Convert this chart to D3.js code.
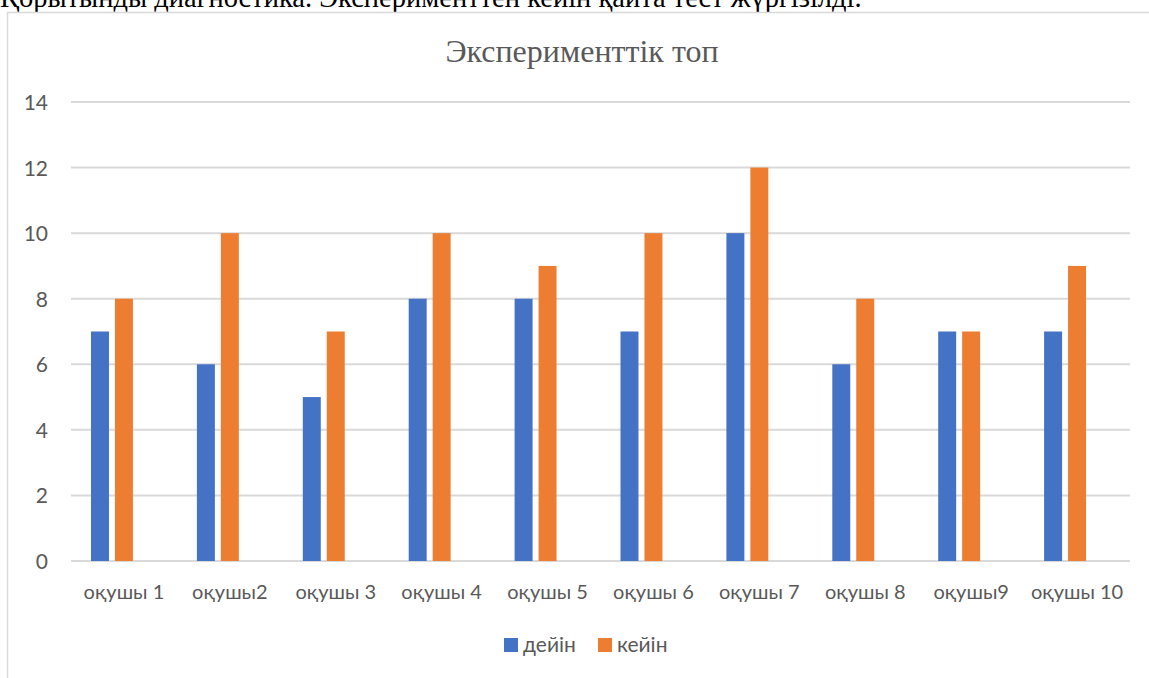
<!DOCTYPE html>
<html>
<head>
<meta charset="utf-8">
<script src="https://cdn.jsdelivr.net/npm/d3@7"></script>
<style>
  html, body { margin: 0; padding: 0; background: #fff; overflow: hidden; }
  svg { display: block; }
</style>
</head>
<body>
<svg id="chart" width="1149" height="678"></svg>
<script>
// Test scores of the experimental group, before and after
const students = ["оқушы 1", "оқушы2", "оқушы 3", "оқушы 4", "оқушы 5", "оқушы 6", "оқушы 7", "оқушы 8", "оқушы9", "оқушы 10"];
const seriesNames = ["дейін", "кейін"];
const before = [7, 6, 5, 8, 8, 7, 10, 6, 7, 7];
const after = [8, 10, 7, 10, 9, 10, 12, 8, 7, 9];
const yTicks = [0, 2, 4, 6, 8, 10, 12, 14];
const colors = ["#4472C4", "#ED7D31"];

const svg = d3.select("#chart");
const W = 1149, H = 678;
const plot = { left: 71, right: 1130, top: 102, bottom: 561 };
const textColor = "#595959";
const font = "Lato, 'Open Sans', sans-serif";

// Caption line from the surrounding document, partly above the frame
svg.append("text")
  .attr("x", 0).attr("y", 7)
  .attr("font-family", "'Liberation Serif', 'Times New Roman', serif")
  .attr("font-size", 28.5)
  .attr("fill", "#000")
  .text("Қорытынды диагностика. Эксперименттен кейін қайта тест жүргізілді.");

// Chart frame (left and top edges)
svg.append("path")
  .attr("d", `M7.5,${H} V12.5 H${W}`)
  .attr("fill", "none")
  .attr("stroke", "#d9d9d9")
  .attr("stroke-width", 1.5);

const x = d3.scaleBand().domain(students).range([plot.left, plot.right]).paddingInner(0).paddingOuter(0);
// Three slots per category; the third one stays empty
const inner = d3.scaleBand().domain([0, 1, 2])
  .range([20, x.bandwidth() - 20]).paddingInner(0.25).paddingOuter(0);
const y = d3.scaleLinear().domain([0, 14]).range([plot.bottom, plot.top]);

// Gridlines
svg.append("g")
  .selectAll("line")
  .data(yTicks)
  .join("line")
  .attr("x1", plot.left).attr("x2", plot.right)
  .attr("y1", d => y(d)).attr("y2", d => y(d))
  .attr("stroke", "#d9d9d9")
  .attr("stroke-width", 2);

// Y axis labels
const yAxis = d3.axisLeft(y).tickValues(yTicks).tickSize(0).tickPadding(0);
svg.append("g")
  .attr("transform", `translate(48,0)`)
  .call(yAxis)
  .call(g => g.select(".domain").remove())
  .call(g => g.selectAll("text")
    .attr("font-family", font)
    .attr("font-size", 21)
    .attr("fill", textColor)
    .attr("dy", "0.36em"));

// Bars
const values = [before, after];
values.forEach((vals, si) => {
  svg.append("g")
    .selectAll("rect")
    .data(vals)
    .join("rect")
    .attr("x", (d, i) => x(students[i]) + inner(si))
    .attr("width", inner.bandwidth())
    .attr("y", d => y(d))
    .attr("height", d => y(0) - y(d))
    .attr("fill", colors[si]);
});

// X axis labels
const xAxis = d3.axisBottom(x).tickSize(0).tickPadding(0);
svg.append("g")
  .attr("transform", `translate(0,${plot.bottom})`)
  .call(xAxis)
  .call(g => g.select(".domain").remove())
  .call(g => g.selectAll("text")
    .attr("font-family", font)
    .attr("font-size", 20)
    .attr("fill", textColor)
    .attr("dy", null)
    .attr("y", 38));

// Title
svg.append("text")
  .attr("x", 582).attr("y", 62)
  .attr("text-anchor", "middle")
  .attr("font-family", "'Liberation Serif', 'Times New Roman', serif")
  .attr("font-size", 32)
  .attr("fill", textColor)
  .text("Эксперименттік топ");

// Legend
const legendItems = [
  { name: seriesNames[0], color: colors[0], x: 504 },
  { name: seriesNames[1], color: colors[1], x: 598 }
];
const lg = svg.append("g");
legendItems.forEach(it => {
  lg.append("rect").attr("x", it.x).attr("y", 638).attr("width", 14).attr("height", 14).attr("fill", it.color);
  lg.append("text").attr("x", it.x + 19).attr("y", 652)
    .attr("font-family", font).attr("font-size", 21).attr("fill", textColor)
    .text(it.name);
});
</script>
</body>
</html>
